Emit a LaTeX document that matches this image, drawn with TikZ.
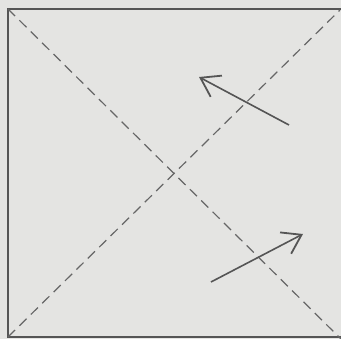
\documentclass[tikz,border=0pt]{standalone}
\usetikzlibrary{arrows.meta}
\definecolor{bg}{HTML}{E4E4E2}
\definecolor{ink}{HTML}{555555}
\definecolor{dash}{HTML}{666666}
\begin{document}
\begin{tikzpicture}[x=1pt,y=-1pt,
  frame/.style={draw=ink,line width=2pt},
  diag/.style={draw=dash,line width=1.2pt,dash pattern=on 10pt off 6pt},
  arr/.style={draw=ink,line width=1.6pt,-{Straight Barb[length=18pt,width=24pt,line width=1.8pt]}}]
\fill[bg] (0,0) rectangle (341,339);
\useasboundingbox (0,0) rectangle (341,339);
\coordinate (tl) at (8,9);
\coordinate (bl) at (8,337);
\coordinate (tr) at (343,9);
\coordinate (br) at (343,337);
\coordinate (dtr) at (340,10);
\coordinate (dbr) at (341,339);
\draw[frame] (tr) -- (tl) -- (bl) -- (br);
\draw[diag] (tl) -- (dbr);
\draw[diag] (bl) -- (dtr);
\coordinate (a1s) at (289,125);
\coordinate (a1e) at (199,77);
\coordinate (a2s) at (211,282);
\coordinate (a2e) at (303,234);
\draw[arr] (a1s) -- (a1e);
\draw[arr] (a2s) -- (a2e);
\end{tikzpicture}
\end{document}
